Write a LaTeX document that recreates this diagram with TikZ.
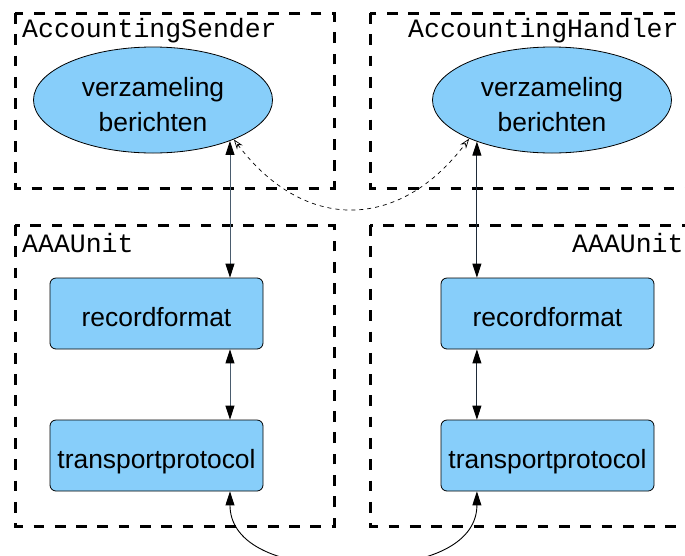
\documentclass[tikz,border=0pt]{standalone}
\usepackage{fontspec}
\setmainfont{Liberation Sans}
\setmonofont{Liberation Mono}
\usetikzlibrary{arrows.meta,shapes.geometric}
\definecolor{boxblue}{HTML}{87CEFA}
\definecolor{linkleft}{HTML}{4A5C6E}
\definecolor{linkright}{HTML}{1E2A38}
\tikzset{
  group/.style={draw, line width=3pt, dash pattern=on 10.7pt off 10.6pt},
  grouplabel/.style={font=\fontsize{26.5}{30}\ttfamily, inner sep=0pt, anchor=base west},
  store/.style={ellipse, draw, fill=boxblue, line width=0.8pt,
    minimum width=239pt, minimum height=106pt, inner sep=0pt, align=center,
    font=\fontsize{26.4}{35}\selectfont},
  layer/.style={rectangle, rounded corners=6pt, draw, fill=boxblue, line width=0.8pt,
    minimum width=213pt, minimum height=71pt, inner sep=0pt,
    text height=26pt, text depth=0pt, font=\fontsize{26.4}{32}\selectfont},
  link/.style={line width=0.9pt,
    {Triangle[length=14pt,width=9pt,color=black]}-{Triangle[length=14pt,width=9pt,color=black]}},
  peer/.style={line width=0.7pt, dash pattern=on 4pt off 4pt,
    {Stealth[open,length=10pt,width=7pt]}-{Stealth[open,length=10pt,width=7pt]}},
}
\begin{document}
\begin{tikzpicture}[x=1pt,y=-1pt]
\useasboundingbox (0,0) rectangle (685,555);
\clip (0,0) rectangle (685,555);

% dashed group frames
\draw[group] (15,13) rectangle (334,188);
\draw[group] (370,13) rectangle (720,188);
\draw[group] (15,225) rectangle (334,526);
\draw[group] (370,225) rectangle (720,526);

\node[grouplabel] (lsender) at (22,37) {AccountingSender};
\node[grouplabel] (rhandler) at (408,37) {AccountingHandler};
\node[grouplabel] (lunit) at (22,252) {AAAUnit};
\node[grouplabel] (runit) at (572,252) {AAAUnit};

% message stores
\node[store] (ls) at (153,100) {\rule{0pt}{29pt}verzameling\\berichten};
\node[store] (rs) at (552,100) {\rule{0pt}{29pt}verzameling\\berichten};

% protocol layers
\node[layer] (lrec) at (156.5,313.5) {recordformat};
\node[layer] (ltr)  at (156.5,455.5) {transportprotocol};
\node[layer] (rrec) at (547.5,313.5) {recordformat};
\node[layer] (rtr)  at (547.5,455.5) {transportprotocol};

% vertical links
\coordinate (lx) at (ls.-28);
\coordinate (rx) at (rs.-151);
\draw[link, linkleft] (lx) -- (lx |- lrec.north);
\draw[link, linkleft] (lx |- lrec.south) -- (lx |- ltr.north);
\draw[link, linkright] (rx) -- (rx |- rrec.north);
\draw[link, linkright] (rx |- rrec.south) -- (rx |- rtr.north);

% logical peer link between the stores
\draw[peer] (ls.-26) .. controls +(70,93) and +(-70,93) .. (rs.-155);

% physical link between the transport layers, dipping below the frames
\coordinate (busmid) at (353,566);
\draw[link] (lx |- ltr.south) .. controls +(0,49) and +(-83,0) .. (busmid)
  .. controls +(83,0) and +(0,49) .. (rx |- rtr.south);
\end{tikzpicture}
\end{document}
